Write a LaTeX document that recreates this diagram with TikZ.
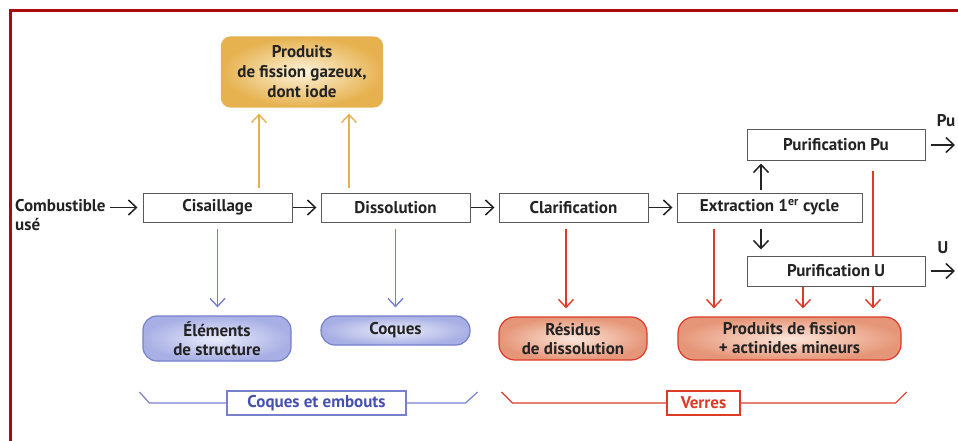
\documentclass[tikz,border=0pt]{standalone}
\usepackage{fontspec}
\setmainfont{PT Sans}
\usepackage{xcolor}
\definecolor{frame}{RGB}{170,10,15}
\definecolor{ink}{RGB}{35,35,35}
\definecolor{gold}{RGB}{230,178,80}
\definecolor{goldlight}{RGB}{253,243,218}
\definecolor{bluel}{RGB}{118,128,205}
\definecolor{bluefill}{RGB}{168,175,228}
\definecolor{bluelight}{RGB}{234,236,251}
\definecolor{bluetext}{RGB}{70,80,175}
\definecolor{redl}{RGB}{222,58,40}
\definecolor{redfill}{RGB}{230,150,120}
\definecolor{redlight}{RGB}{251,230,218}
\usepackage{tikz}
\usetikzlibrary{positioning}
\usetikzlibrary{calc,arrows.meta,backgrounds}

\tikzset{
  txt/.style={font=\fontsize{17}{19}\selectfont\bfseries,text=ink},
  procbox/.style={draw=ink!75,line width=1pt,fill=white,rectangle,minimum height=29pt,inner sep=2pt,txt},
  gasbox/.style={draw=gold,line width=1.2pt,rounded corners=9pt,inner color=goldlight,outer color=gold,align=center,txt,font=\fontsize{17}{20}\selectfont\bfseries},
  bluebox/.style={draw=bluel,line width=1.2pt,rounded corners=14pt,inner color=bluelight,outer color=bluefill,align=center,inner sep=2pt,txt},
  redbox/.style={draw=redl,line width=1.2pt,rounded corners=16pt,inner color=redlight,outer color=redfill,align=center,inner sep=2pt,txt},
  tagblue/.style={draw=bluel,line width=1.2pt,fill=white,rectangle,inner sep=2pt,txt,text=bluetext},
  tagred/.style={draw=redl,line width=1.2pt,fill=white,rectangle,inner sep=2pt,txt,text=redl},
  blk/.style={draw=ink,line width=1.5pt,-{Straight Barb[length=8pt,width=15pt]}},
  goldarrow/.style={draw=gold,line width=1.4pt,-{Straight Barb[length=8pt,width=15pt]},shorten <=5pt,shorten >=6pt},
  bluearrow/.style={draw=bluel,line width=1.4pt,-{Straight Barb[length=8pt,width=15pt]},shorten <=6pt,shorten >=8pt},
  redarrow/.style={draw=redl,line width=1.4pt,-{Straight Barb[length=8pt,width=15pt]},shorten <=6pt,shorten >=8pt}
}

\begin{document}
\begin{tikzpicture}[x=1pt,y=-1pt]
\useasboundingbox (0,0) rectangle (958,441);
%frame
\draw [frame,line width=3pt] (10,441) -- (10,11) -- (958,11);

%main line of process blocks
\node (cis) at (217.5,207.5) [procbox,minimum width=149pt] {Cisaillage};
\node (dis) at (395.5,207.5) [procbox,minimum width=149pt] {Dissolution};
\node (cla) at (573.5,207.5) [procbox,minimum width=149pt] {Clarification};
\node (ext) at (769.5,207.5) [procbox,minimum width=185pt] {Extraction 1\textsuperscript{er} cycle};
\node (pu) at (836,145) [procbox,minimum width=178pt,minimum height=30pt] {Purification Pu};
\node (u) at (836,271) [procbox,minimum width=178pt,minimum height=30pt] {Purification U};

%input
\node (comb) at (15,199) [txt,anchor=north west,align=left,inner sep=0pt] {Combustible\\us\'e};
\draw [blk,shorten <=4pt,shorten >=5pt] (comb.east |- cis.west) -- (cis.west);
%chain of process blocks
\foreach \a/\b in {cis/dis,dis/cla,cla/ext}{
    \draw [blk,shorten >=4pt] (\a.east) -- (\b.west);
}
\draw [blk,shorten <=3pt,shorten >=3pt] ([xshift=-8.5pt]ext.north) -- ([xshift=-8.5pt]ext.north |- pu.south);
\draw [blk,shorten <=6pt,shorten >=6pt] ([xshift=-8.5pt]ext.south) -- ([xshift=-8.5pt]ext.south |- u.north);

%outputs Pu and U
\coordinate (puend) at (955,145);
\coordinate (uend) at (955,271);
\draw [blk,shorten <=5pt] (pu.east) -- (puend);
\draw [blk,shorten <=5pt] (u.east) -- (uend);
\node (pulab) at (946,121) [txt] {Pu};
\node (ulab) at (943,248) [txt] {U};

%gaseous fission products
\node (gas) at (302,72) [gasbox,minimum width=161pt,minimum height=70pt] {Produits\\de fission gazeux,\\dont iode};
\draw [goldarrow] ([xshift=41.5pt]cis.north) -- ([xshift=41.5pt]cis.north |- gas.south);
\draw [goldarrow] ([xshift=-46.5pt]dis.north) -- ([xshift=-46.5pt]dis.north |- gas.south);

%hulls and end pieces
\node (elem) at (217,338.5) [bluebox,minimum width=148pt,minimum height=45pt] {\'El\'ements\\de structure};
\node (coq) at (395.5,330.5) [bluebox,minimum width=149pt,minimum height=29pt] {Coques};
\draw [bluearrow] (cis.south) -- (cis.south |- elem.north);
\draw [bluearrow] (dis.south) -- (dis.south |- coq.north);

%wastes to glass
\node (res) at (573,338.5) [redbox,minimum width=148pt,minimum height=43pt] {R\'esidus\\de dissolution};
\node (pf) at (789.5,338.5) [redbox,minimum width=223pt,minimum height=43pt] {Produits de fission\\+ actinides mineurs};
\draw [redarrow] ([xshift=-7.5pt]cla.south) -- ([xshift=-7.5pt]cla.south |- res.north);
\draw [redarrow] ([xshift=-55.5pt]ext.south) -- ([xshift=-55.5pt]ext.south |- pf.north);
\draw [redarrow,shorten <=0pt] ([xshift=-33pt]u.south) -- ([xshift=-33pt]u.south |- pf.north);
\begin{scope}[on background layer]
\draw [redarrow,shorten <=10pt] ([xshift=37pt]pu.south) -- ([xshift=37pt]pu.south |- pf.north);
\end{scope}

%brackets
\node (ce) at (316.5,403) [tagblue,minimum width=179pt,minimum height=24pt] {Coques et embouts};
\node (ver) at (703.5,403) [tagred,minimum width=73pt,minimum height=24pt] {Verres};
\draw [bluel,line width=1.2pt] (ce.west) -- ++(-77,0) -- ++(-10,-11);
\draw [bluel,line width=1.2pt] (ce.east) -- ++(59,0) -- ++(12,-11);
\draw [redl,line width=1.2pt] (ver.west) -- ++(-154,0) -- ++(-11,-11);
\draw [redl,line width=1.2pt] (ver.east) -- ++(155,0) -- ++(11,-11);
\end{tikzpicture}
\end{document}
